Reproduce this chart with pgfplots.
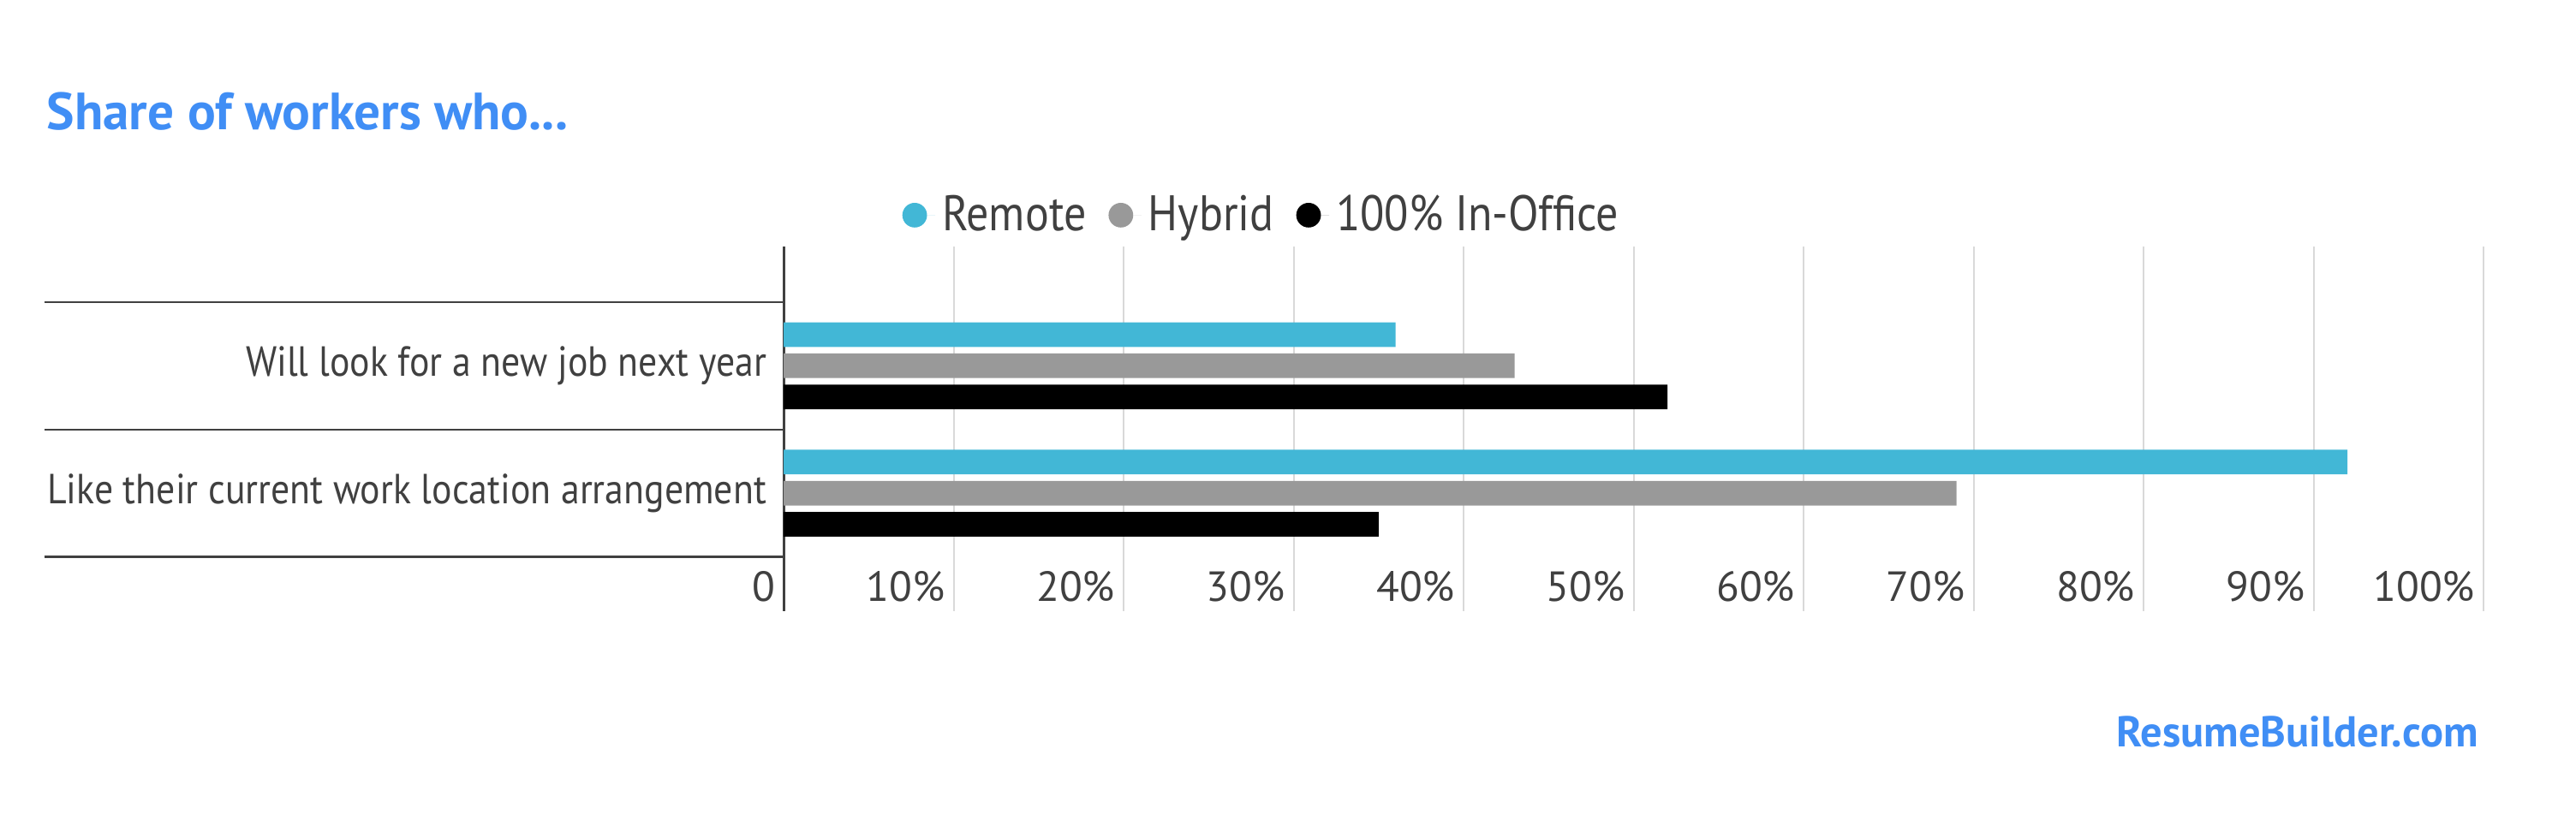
\documentclass[border=0pt]{standalone}
\usepackage{pgfplots}
\pgfplotsset{compat=1.18}
\usepackage{fontspec}
\setmainfont{PT Sans}
\newfontfamily\condfont{PT Sans}[FakeStretch=0.89]
\definecolor{remote}{RGB}{66,183,214}
\definecolor{hybrid}{RGB}{153,153,153}
\definecolor{office}{RGB}{0,0,0}
\definecolor{titleblue}{RGB}{64,142,245}
\definecolor{txt}{RGB}{64,64,64}
\definecolor{gridc}{RGB}{217,217,217}
\begin{document}
\begin{tikzpicture}
\path[use as bounding box] (0,0) rectangle (752pt,241pt);
\begin{axis}[
  at={(228.75pt,62.6pt)}, anchor=south west,
  scale only axis, width=496.25pt, height=106.4pt,
  xbar, bar width=7.2pt,
  xmin=0, xmax=100, ymin=-0.923, ymax=1.936,
  axis y line*=left, axis x line*=bottom,
  x axis line style={draw=none},
  y axis line style={draw=txt, line width=0.75pt},
  xtick={0,10,...,100},
  xticklabels={0,10\%,20\%,30\%,40\%,50\%,60\%,70\%,80\%,90\%,100\%},
  xmajorgrids, major grid style={draw=gridc, line width=0.5pt},
  x tick style={draw=none}, major tick length=0pt,
  xticklabel style={anchor=east, yshift=7.2pt, xshift=1pt, font=\fontsize{12.3}{14}\selectfont, text=txt},
  ytick={0,1},
  yticklabels={Like their current work location arrangement, Will look for a new job next year},
  yticklabel style={anchor=east, xshift=-1.5pt, font=\condfont\fontsize{12.3}{14}\selectfont, text=txt},
  extra y ticks={-0.5,0.5,1.5},
  extra y tick labels={},
  extra y tick style={major tick length=215.75pt, tick align=outside, grid=none, tick style={draw=txt, line width=0.6pt}},
  /pgf/number format/assume math mode=true,
  legend columns=3,
  legend style={at={(0.2826,1.086)}, anchor=center, draw=none, fill=none,
    font=\condfont\fontsize{14.6}{17}\selectfont, text=txt,
    /tikz/every even column/.append style={column sep=4.5pt}},
  legend image code/.code={\fill[#1] (0pt,0pt) circle (3.6pt); \path (-3.6pt,0pt) -- (6pt,0pt);},
]
\addplot[fill=remote, draw=none, bar shift=9.1pt] coordinates {(92,0) (36,1)};
\addplot[fill=hybrid, draw=none, bar shift=0pt] coordinates {(69,0) (43,1)};
\addplot[fill=office, draw=none, bar shift=-9.1pt] coordinates {(35,0) (52,1)};
\legend{Remote, Hybrid, 100\% In-Office}
\end{axis}
\node[anchor=base west, inner sep=0pt, text=titleblue, font=\fontsize{15.3}{18}\selectfont\bfseries] at (13.5pt,203.1pt) {Share of workers who...};
\node[anchor=base east, inner sep=0pt, text=titleblue, font=\fontsize{12.6}{15}\selectfont\bfseries] at (723.6pt,23pt) {ResumeBuilder.com};
\end{tikzpicture}
\end{document}
